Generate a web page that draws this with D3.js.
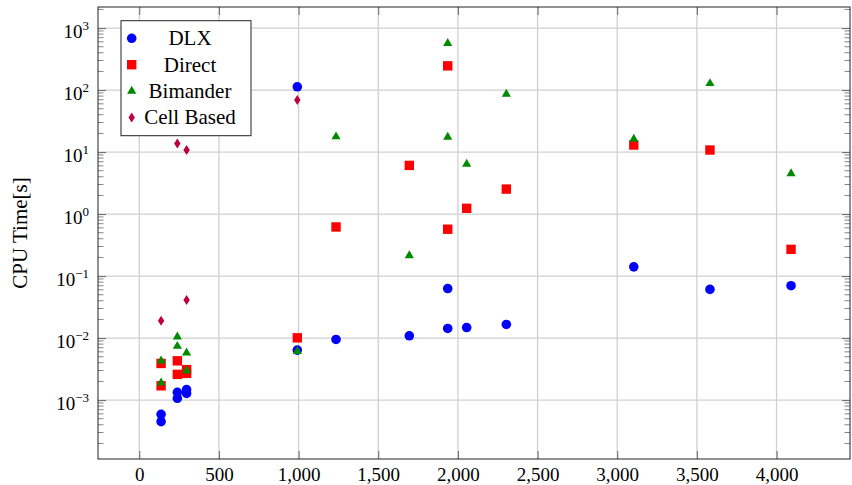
<!DOCTYPE html>
<html>
<head>
<meta charset="utf-8">
<script src="https://cdn.jsdelivr.net/npm/d3@7"></script>
<style>
  body { margin: 0; background: #fff; }
</style>
</head>
<body>
<div id="chart"></div>
<script>
// x = problem size, y = CPU time in seconds (log axis)
const dlx = [
    [137, 0.00059], [137, 0.00045], [239, 0.00133], [239, 0.00107], [297, 0.00148], [297, 0.00128],
    [992, 0.0064], [992, 113], [1235, 0.0095], [1695, 0.0109], [1936, 0.063], [1936, 0.0143],
    [2055, 0.0148], [2304, 0.0166], [3104, 0.141], [3582, 0.061], [4091, 0.070]
];
const direct = [
    [137, 0.0039], [137, 0.0017], [239, 0.0043], [239, 0.0026], [297, 0.0031], [297, 0.0027],
    [992, 0.0101], [1235, 0.62], [1695, 6.1], [1936, 246], [1936, 0.57], [2055, 1.24],
    [2304, 2.53], [3104, 13.0], [3582, 10.8], [4091, 0.27]
];
const bimander = [
    [137, 0.0043], [137, 0.0019], [239, 0.0105], [239, 0.0074], [297, 0.0058], [297, 0.0030],
    [992, 0.0061], [1235, 17.7], [1695, 0.215], [1936, 566], [1936, 17.5], [2055, 6.4],
    [2304, 86], [3104, 16.2], [3582, 128], [4091, 4.5]
];
const cellBased = [
    [137, 0.019], [239, 13.8], [297, 10.8], [297, 0.041], [992, 69]
];

const seriesNames = ["DLX", "Direct", "Bimander", "Cell Based"];
const xTicks = [0, 500, 1000, 1500, 2000, 2500, 3000, 3500, 4000];
const yTickExponents = [-3, -2, -1, 0, 1, 2, 3];

const W = 852, H = 485;
const plotL = 98, plotR = 850, plotT = 7, plotB = 459;
const serif = '"Liberation Serif", "Times New Roman", serif';

// marker shapes, sized like the pgfplots marks
const mark = {
    circle: { draw(c) { c.moveTo(4.8, 0); c.arc(0, 0, 4.8, 0, 2 * Math.PI); } },
    square: { draw(c) { c.rect(-4.7, -4.7, 9.4, 9.4); } },
    triangle: { draw(c) { const r = 5.3; c.moveTo(0, -r); c.lineTo(r * 0.866, r / 2); c.lineTo(-r * 0.866, r / 2); c.closePath(); } },
    diamond: { draw(c) { c.moveTo(0, -5); c.lineTo(3.2, 0); c.lineTo(0, 5); c.lineTo(-3.2, 0); c.closePath(); } }
};

const series = [
    { name: seriesNames[0], data: dlx, color: "#0000ff", type: mark.circle },
    { name: seriesNames[1], data: direct, color: "#ff0000", type: mark.square },
    { name: seriesNames[2], data: bimander, color: "#008a00", type: mark.triangle },
    { name: seriesNames[3], data: cellBased, color: "#bf0040", type: mark.diamond }
];

const x = d3.scaleLinear().domain([-259, 4461]).range([plotL, plotR]);
const y = d3.scaleLog().domain([Math.pow(10, -3.95), Math.pow(10, 3.34)]).range([plotB, plotT]);

const svg = d3.select("#chart").append("svg")
    .attr("width", W)
    .attr("height", H)
    .style("font-family", serif);

// grid
const grid = svg.append("g");
grid.selectAll(".gx").data(xTicks).enter().append("line")
    .attr("x1", d => x(d)).attr("x2", d => x(d))
    .attr("y1", plotT).attr("y2", plotB)
    .attr("stroke", "#d0d0d0").attr("stroke-width", 1.3);
grid.selectAll(".gy").data(yTickExponents).enter().append("line")
    .attr("x1", plotL).attr("x2", plotR)
    .attr("y1", d => y(Math.pow(10, d))).attr("y2", d => y(Math.pow(10, d)))
    .attr("stroke", "#d0d0d0").attr("stroke-width", 1.3);

// marks
series.forEach(s => {
    svg.append("g").selectAll("path")
        .data(s.data)
        .enter()
        .append("path")
        .attr("d", d3.symbol().type(s.type))
        .attr("transform", d => `translate(${x(d[0])},${y(d[1])})`)
        .attr("fill", s.color);
});

// minor ticks on the log axis (both sides)
const minor = y.ticks().filter(v => Math.abs(Math.log10(v) - Math.round(Math.log10(v))) > 1e-6);
const minorG = svg.append("g").attr("stroke", "#666").attr("stroke-width", 0.8);
minorG.selectAll(".ml").data(minor).enter().append("line")
    .attr("x1", plotL).attr("x2", plotL + 5.5)
    .attr("y1", d => y(d)).attr("y2", d => y(d));
minorG.selectAll(".mr").data(minor).enter().append("line")
    .attr("x1", plotR).attr("x2", plotR - 5.5)
    .attr("y1", d => y(d)).attr("y2", d => y(d));

// x axis
const gx = svg.append("g")
    .attr("transform", `translate(0, ${plotB})`)
    .call(d3.axisBottom(x).tickValues(xTicks).tickSize(-8).tickPadding(8.5).tickFormat(d3.format(",")));
gx.select(".domain").remove();
gx.selectAll("line").attr("stroke", "#666");
gx.selectAll("text")
    .style("font-family", serif)
    .style("font-size", "19px")
    .attr("fill", "#000");

svg.append("g")
    .attr("transform", `translate(0, ${plotT})`)
    .call(d3.axisTop(x).tickValues(xTicks).tickSize(-8).tickFormat(""))
    .call(g => g.select(".domain").remove())
    .selectAll("line").attr("stroke", "#666");

// y axis with 10^n labels
const gy = svg.append("g")
    .attr("transform", `translate(${plotL}, 0)`)
    .call(d3.axisLeft(y).tickValues(yTickExponents.map(e => Math.pow(10, e))).tickSize(-8).tickPadding(9).tickFormat(""));
gy.select(".domain").remove();
gy.selectAll("line").attr("stroke", "#666");
gy.selectAll("text")
    .attr("dy", "0.49em")
    .attr("fill", "#000")
    .style("font-family", serif)
    .style("font-size", "19px")
    .each(function (d) {
        const e = Math.round(Math.log10(d));
        const t = d3.select(this);
        t.append("tspan").text("10");
        t.append("tspan").attr("dy", -7.5).style("font-size", "13px").text(e < 0 ? "\u2212" + (-e) : e);
    });

svg.append("g")
    .attr("transform", `translate(${plotR}, 0)`)
    .call(d3.axisRight(y).tickValues(yTickExponents.map(e => Math.pow(10, e))).tickSize(-8).tickFormat(""))
    .call(g => g.select(".domain").remove())
    .selectAll("line").attr("stroke", "#666");

// frame
svg.append("rect")
    .attr("x", plotL).attr("y", plotT)
    .attr("width", plotR - plotL).attr("height", plotB - plotT)
    .attr("fill", "none").attr("stroke", "#222").attr("stroke-width", 1);

// y label
svg.append("text")
    .attr("transform", `translate(27, ${(plotT + plotB) / 2}) rotate(-90)`)
    .attr("text-anchor", "middle")
    .style("font-family", serif)
    .style("font-size", "21px")
    .text("CPU Time[s]");

// legend
const legend = svg.append("g").attr("transform", "translate(121, 20.7)");
legend.append("rect")
    .attr("width", 130).attr("height", 115)
    .attr("fill", "#fff").attr("stroke", "#222").attr("stroke-width", 1);

const rows = legend.selectAll(".row")
    .data(series)
    .enter()
    .append("g")
    .attr("transform", (d, i) => `translate(0, ${17.6 + i * 26.4})`);
rows.append("path")
    .attr("d", d => d3.symbol().type(d.type)())
    .attr("transform", "translate(10.7, 0)")
    .attr("fill", d => d.color);
rows.append("text")
    .attr("x", 69)
    .attr("y", 6.8)
    .attr("text-anchor", "middle")
    .style("font-family", serif)
    .style("font-size", "21px")
    .text(d => d.name);
</script>
</body>
</html>
